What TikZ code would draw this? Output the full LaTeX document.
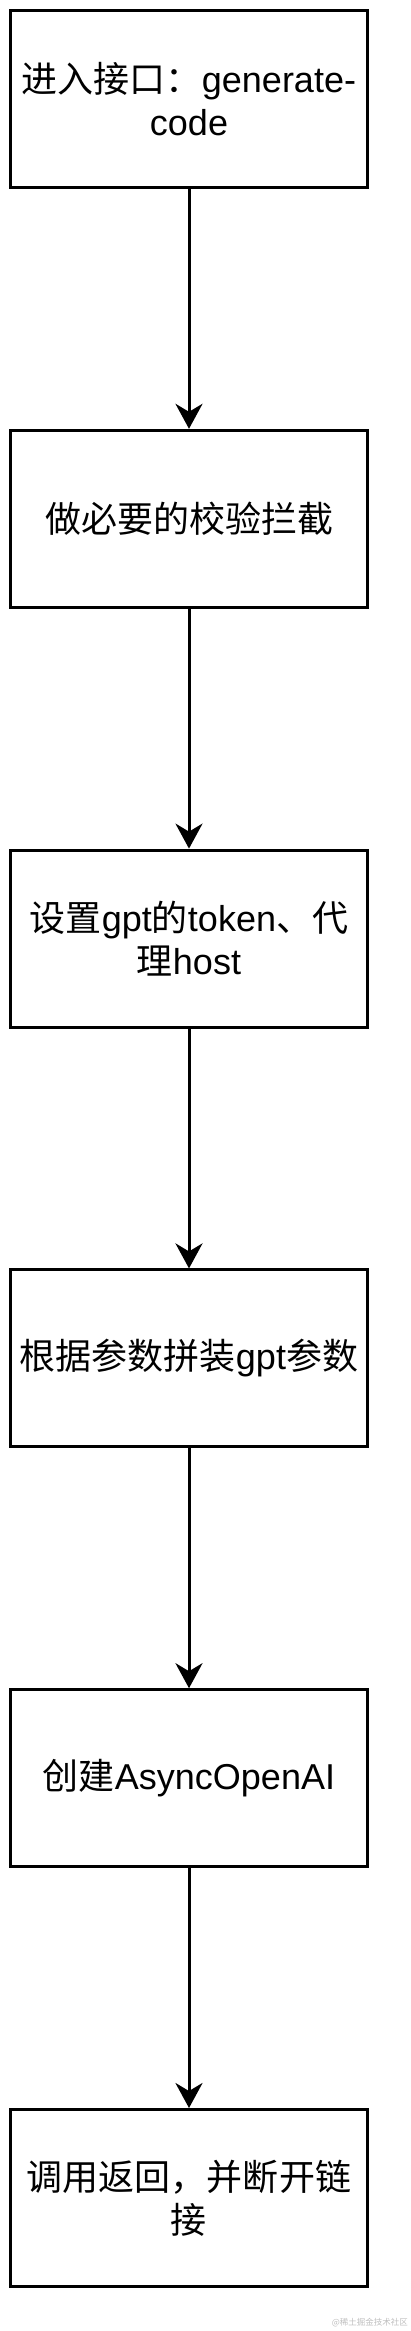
\documentclass[tikz,border=0pt]{standalone}
\usepackage{fontspec}
\setmainfont{Liberation Sans}
\newfontfamily\cjk{Noto Sans CJK SC}
\usetikzlibrary{arrows.meta}
\begin{document}
\begin{tikzpicture}[x=1pt,y=-1pt,
  stepbox/.style={draw=black, line width=3pt, fill=white, minimum width=357pt, minimum height=177pt,
    inner sep=0pt, align=center, font=\fontsize{36}{43}\selectfont},
  flow/.style={line width=3pt, -{Stealth[length=25pt,width=27pt,inset=8pt]}}]
\useasboundingbox (0,0) rectangle (411,2331);
\node[stepbox] (b1) at (189,99) {{\cjk 进入接口：}generate-\\code};
\node[stepbox] (b2) at (189,518.8) {{\cjk 做必要的校验拦截}};
\node[stepbox] (b3) at (189,938.6) {{\cjk 设置}gpt{\cjk 的}token{\cjk 、代}\\{\cjk 理}host};
\node[stepbox] (b4) at (189,1358.4) {{\cjk 根据参数拼装}gpt{\cjk 参数}};
\node[stepbox] (b5) at (189,1778.2) {{\cjk 创建}AsyncOpenAI};
\node[stepbox] (b6) at (189,2198) {{\cjk 调用返回，并断开链}\\{\cjk 接}};
\draw[flow] (b1) -- (b2);
\draw[flow] (b2) -- (b3);
\draw[flow] (b3) -- (b4);
\draw[flow] (b4) -- (b5);
\draw[flow] (b5) -- (b6);
\node[anchor=east, text=black!25, font=\cjk\fontsize{8.5}{10}\selectfont, inner sep=0pt] (wm) at (408,2323) {@稀土掘金技术社区};
\end{tikzpicture}
\end{document}
